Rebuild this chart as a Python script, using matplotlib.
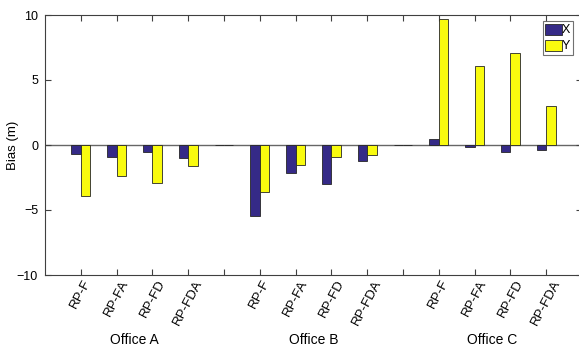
import numpy as np
import matplotlib.pyplot as plt
from matplotlib.transforms import blended_transform_factory

plt.rcParams['font.family'] = ['Liberation Sans', 'DejaVu Sans']

# datos
oficinas = ['Office A', 'Office B', 'Office C']
metodos = ['RP-F', 'RP-FA', 'RP-FD', 'RP-FDA']
bias_x_a = [-0.69, -0.92, -0.56, -1.03]
bias_y_a = [-3.92, -2.41, -2.95, -1.59]
bias_x_b = [-5.48, -2.13, -3.03, -1.25]
bias_y_b = [-3.59, -1.51, -0.92, -0.74]
bias_x_c = [0.44, -0.13, -0.54, -0.41]
bias_y_c = [9.67, 6.05, 7.08, 3.03]

# series completas con un hueco (cero) entre oficinas
bx = bias_x_a + [0] + bias_x_b + [0] + bias_x_c
by = bias_y_a + [0] + bias_y_b + [0] + bias_y_c
etiquetas = metodos + [''] + metodos + [''] + metodos
pos = np.arange(1, len(bx) + 1)

col_x = (0.2081, 0.1663, 0.5292)
col_y = (0.9763, 0.9831, 0.0538)
w = 0.26

fig = plt.figure(figsize=(5.79, 3.5), dpi=100)
ax = fig.add_axes([45/579, 75/350, 537/579, 260/350])

ax.axhline(0, color='0.4', lw=1, zorder=1)
ax.bar(pos - w/2, bx, w, color=col_x, edgecolor='0.15', lw=0.6, label='X', zorder=2)
ax.bar(pos + w/2, by, w, color=col_y, edgecolor='0.15', lw=0.6, label='Y', zorder=2)

ax.set_xlim(0, len(bx) + 1)
ax.set_ylim(-10, 10)
ax.set_yticks([-10, -5, 0, 5, 10])
ax.set_xticks(pos)
ax.set_xticklabels(etiquetas, rotation=62, fontsize=9.5)
ax.tick_params(direction='in', top=True, right=True, length=4, width=0.8,
               color='0.25', labelsize=9, pad=5)
ax.tick_params(axis='x', pad=2, labelsize=9.5)
for s in ax.spines.values():
    s.set_color('0.25')
    s.set_linewidth(0.8)

ax.set_ylabel('Bias (m)', fontsize=9.5)
ax.yaxis.set_label_coords(-26/537, 0.5)

# nombres de oficina bajo cada grupo
tr = blended_transform_factory(ax.transData, fig.transFigure)
for i, nombre in enumerate(oficinas):
    ax.text(2.5 + 5*i, 10/350, nombre, transform=tr, ha='center', va='center', fontsize=10)

leg = ax.legend(loc='upper right', bbox_to_anchor=(573/579, 1 - 21/350),
                bbox_transform=fig.transFigure, fontsize=9, frameon=True,
                fancybox=False, borderpad=0.2, handlelength=1.3, handleheight=1.0,
                handletextpad=0.05, labelspacing=0.25, borderaxespad=0)
leg.get_frame().set_edgecolor('0.3')
leg.get_frame().set_linewidth(0.8)

fig.savefig('out.png', dpi=100)
